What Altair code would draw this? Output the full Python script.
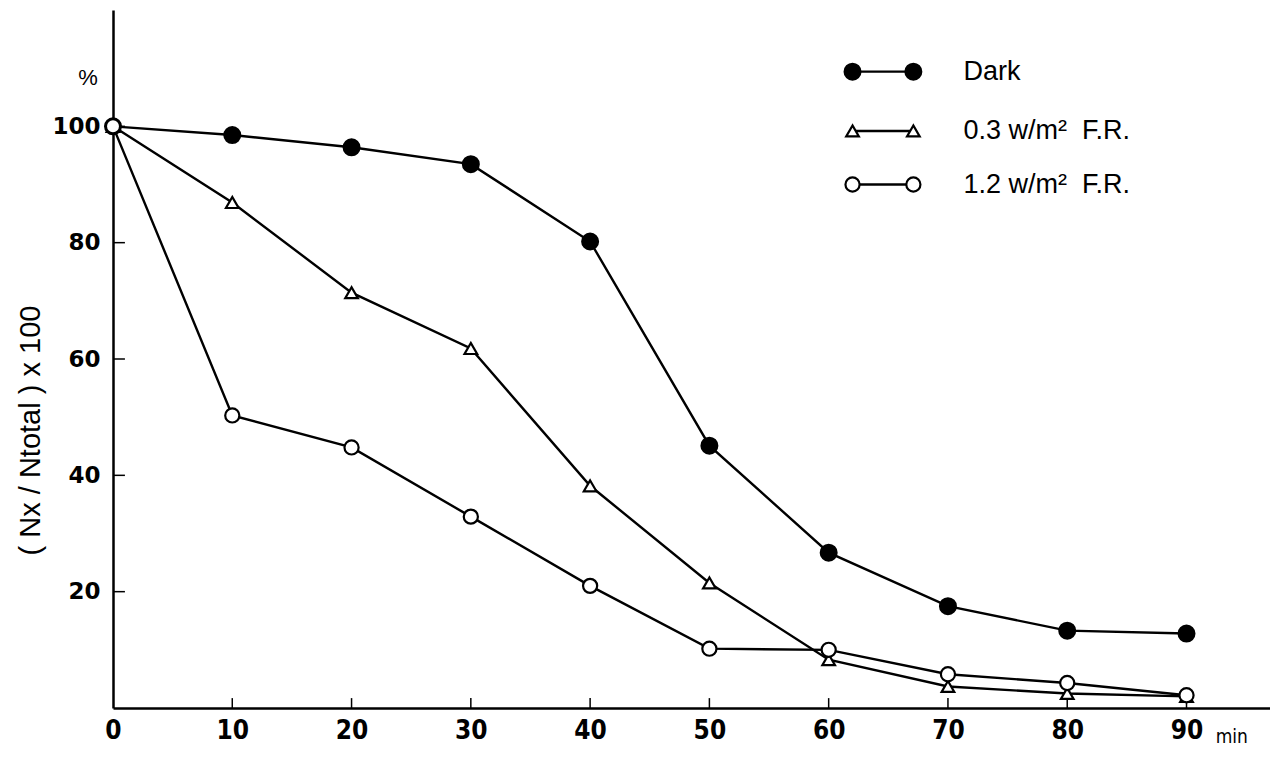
import altair as alt
import pandas as pd

minutes = [0, 10, 20, 30, 40, 50, 60, 70, 80, 90]
dark = [100, 98.5, 96.4, 93.5, 80.2, 45.1, 26.7, 17.5, 13.3, 12.8]
fr03 = [100, 86.9, 71.4, 61.8, 38.2, 21.5, 8.3, 3.7, 2.5, 2.0]
fr12 = [100, 50.3, 44.8, 32.9, 21.0, 10.2, 10.0, 5.8, 4.3, 2.2]
series_names = ["Dark", "0.3 w/m²\u00a0\u00a0F.R.", "1.2 w/m²\u00a0\u00a0F.R."]
x_ticks = [0, 10, 20, 30, 40, 50, 60, 70, 80, 90]
y_ticks = [20, 40, 60, 80, 100]

rows = []
for name, vals in zip(series_names, [dark, fr03, fr12]):
    for m, v in zip(minutes, vals):
        rows.append({"min": m, "val": v, "series": name})
df = pd.DataFrame(rows)

leg = pd.DataFrame({
    "series": series_names,
    "x1": [62.0, 62.0, 62.0],
    "x2": [67.1, 67.1, 67.1],
    "xt": [71.3, 71.3, 71.3],
    "y": [109.4, 99.2, 90.0],
})

W, H = 1157, 698
xs = alt.Scale(domain=[0, 97], nice=False, zero=False)
ys = alt.Scale(domain=[0, 120], nice=False)

styles = {
    series_names[0]: dict(shape="circle", fill="black", size=250),
    series_names[1]: dict(shape="triangle-up", fill="white", size=160),
    series_names[2]: dict(shape="circle", fill="white", size=200),
}

base = alt.Chart(df)

lines = base.mark_line(color="black", strokeWidth=2.4).encode(
    x=alt.X("min:Q", scale=xs,
            axis=alt.Axis(values=x_ticks, title=None, tickSize=0, labelPadding=9,
                          labelFont="DejaVu Sans Condensed", labelFontWeight="bold",
                          labelFontSize=26, labelColor="black", domainColor="black",
                          domainWidth=2.5, grid=False, labelFlush=False)),
    y=alt.Y("val:Q", scale=ys,
            axis=alt.Axis(values=y_ticks, title="( Nx / Ntotal ) x 100", tickSize=0,
                          labelPadding=13, labelFont="DejaVu Sans",
                          labelFontWeight="bold", labelFontSize=23, labelColor="black",
                          domainColor="black", domainWidth=2.5, grid=False,
                          titleFont="Liberation Sans", titleFontWeight="normal",
                          titleFontSize=29, titleColor="black", titlePadding=6,
                          titleY=420)),
    detail="series:N",
)

point_layers = []
for name, st in styles.items():
    point_layers.append(
        base.transform_filter(alt.datum.series == name).mark_point(
            shape=st["shape"], fill=st["fill"], filled=False, size=st["size"],
            strokeWidth=2.2, opacity=1, fillOpacity=1, color="black"
        ).encode(x=alt.X("min:Q", scale=xs), y=alt.Y("val:Q", scale=ys))
    )

xt_df = pd.DataFrame({"t": x_ticks[1:]})
xtick_rules = alt.Chart(xt_df).mark_rule(color="black", strokeWidth=1.5).encode(
    x=alt.X("t:Q", scale=xs), y=alt.datum(0), y2=alt.datum(1.7)
)
yt_df = pd.DataFrame({"t": y_ticks})
ytick_rules = alt.Chart(yt_df).mark_rule(color="black", strokeWidth=1.5).encode(
    y=alt.Y("t:Q", scale=ys), x=alt.datum(0), x2=alt.datum(1.0)
)

legbase = alt.Chart(leg)
leg_line = legbase.mark_rule(color="black", strokeWidth=2.4).encode(
    x=alt.X("x1:Q", scale=xs), x2="x2:Q", y=alt.Y("y:Q", scale=ys)
)
leg_pts = []
for name, st in styles.items():
    for col in ["x1", "x2"]:
        leg_pts.append(
            legbase.transform_filter(alt.datum.series == name).mark_point(
                shape=st["shape"], fill=st["fill"], filled=False, size=st["size"],
                strokeWidth=2.2, opacity=1, fillOpacity=1, color="black"
            ).encode(x=alt.X(f"{col}:Q", scale=xs), y=alt.Y("y:Q", scale=ys))
        )
leg_text = legbase.mark_text(align="left", baseline="middle", font="Liberation Sans",
                             fontSize=27, color="black").encode(
    x=alt.X("xt:Q", scale=xs), y=alt.Y("y:Q", scale=ys), text="series:N"
)

pct = alt.Chart(pd.DataFrame({"x": [-2.1], "y": [108.3], "t": ["%"]})).mark_text(
    font="Liberation Sans", fontSize=22, color="black", baseline="middle"
).encode(x=alt.X("x:Q", scale=xs), y=alt.Y("y:Q", scale=ys), text="t:N")

minlab = alt.Chart(pd.DataFrame({"x": [93.8], "y": [-5.0], "t": ["min"]})).mark_text(
    font="DejaVu Sans Condensed", fontSize=19, color="black", baseline="middle"
).encode(x=alt.X("x:Q", scale=xs), y=alt.Y("y:Q", scale=ys), text="t:N")

chart = alt.layer(
    xtick_rules, ytick_rules, lines, *point_layers, leg_line, *leg_pts, leg_text, pct, minlab
).properties(
    width=W, height=H,
    autosize=alt.AutoSizeParams(type="none"),
    padding={"left": 105, "top": 2, "right": 0, "bottom": 40},
    background="white",
).configure_view(stroke=None)

chart.save("out.html", embed_options={"renderer": "svg", "actions": False})
